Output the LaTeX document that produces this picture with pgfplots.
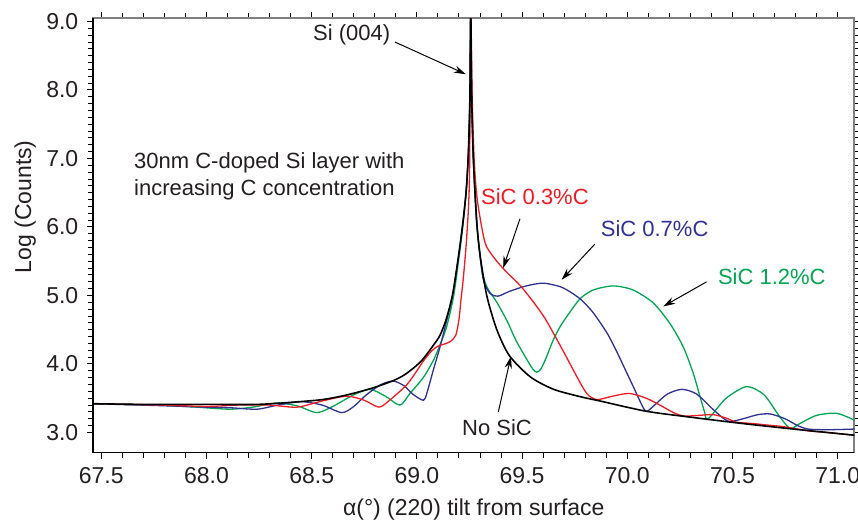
\documentclass[border=0pt]{standalone}
\usepackage{fontspec}
\setmainfont{Liberation Sans}
\usepackage{pgfplots}
\pgfplotsset{compat=1.18}
\usetikzlibrary{arrows.meta,calc}
\definecolor{cred}{RGB}{237,28,36}
\definecolor{cblue}{RGB}{46,49,146}
\definecolor{cgreen}{RGB}{0,166,81}
\definecolor{txt}{RGB}{35,31,32}

\begin{document}
\begin{tikzpicture}
\begin{axis}[
 scale only axis,width=380.5pt,height=217.2pt,
 xmin=67.462,xmax=71.079,ymin=2.705,ymax=9.047,
 xtick={67.5,68,...,71},minor x tick num=4,
 ytick={3,4,...,9},minor y tick num=9,
 tick align=outside,
 major tick length=3pt,minor tick length=2.5pt,
 tick style={black,line width=0.5pt},
 axis line style={draw=gray,line width=0.8pt},
 /pgf/number format/assume math mode=true,
 /pgf/number format/.cd,fixed,fixed zerofill,precision=1,/pgfplots/.cd,
 ticklabel style={font=\fontsize{11.5}{13}\selectfont,text=txt},
 xticklabel style={anchor=north,yshift=-1pt},
 yticklabel style={anchor=east,xshift=-1pt},
 xlabel={α(°) (220) tilt from surface},
 ylabel={Log (Counts)},
 label style={font=\fontsize{11.5}{14}\selectfont,text=txt},
 xlabel style={at={(axis description cs:0.5,-0.131)},anchor=center},
 ylabel style={at={(axis description cs:-0.0894,0.566)},anchor=center},
 every axis plot/.append style={line join=round,smooth,tension=0.45},
 after end axis/.code={\draw[black,line width=0.8pt] (rel axis cs:0,1) -- (rel axis cs:0,0) -- (rel axis cs:1,0);},
]
\coordinate (O) at (rel axis cs:0,0);
% SiC 1.2%C
\addplot[cgreen,line width=0.65pt] coordinates {
(67.46,3.42) (67.75,3.40) (67.95,3.37) (68.11,3.34) (68.22,3.37) (68.33,3.43) (68.43,3.39)
(68.524,3.29) (68.60,3.38) (68.70,3.55) (68.777,3.63) (68.85,3.53) (68.92,3.40) (68.967,3.57)
(69.03,3.80) (69.078,4.05) (69.11,4.28) (69.142,4.55) (69.175,5.00) (69.20,5.55) (69.22,6.05)
(69.235,6.55) (69.245,7.10) (69.252,7.9) (69.256,9.20) (69.260,8.0) (69.268,7.03) (69.284,6.05)
(69.308,5.40) (69.332,5.13) (69.38,4.90) (69.43,4.62) (69.47,4.35) (69.52,4.08) (69.55,3.93)
(69.569,3.88) (69.59,3.93) (69.617,4.11) (69.648,4.35) (69.68,4.54) (69.712,4.69) (69.775,4.95)
(69.838,5.08) (69.933,5.14) (70.028,5.08) (70.124,4.89) (70.203,4.59) (70.266,4.25) (70.314,3.86)
(70.346,3.52) (70.369,3.28) (70.377,3.19) (70.40,3.25) (70.47,3.50) (70.567,3.67) (70.65,3.55)
(70.72,3.25) (70.773,3.06) (70.82,3.13) (70.90,3.25) (70.995,3.28) (71.08,3.18)};
% SiC 0.7%C
\addplot[cblue,line width=0.65pt] coordinates {
(67.46,3.42) (67.80,3.39) (68.00,3.37) (68.12,3.36) (68.24,3.34) (68.34,3.40) (68.45,3.45)
(68.55,3.40) (68.643,3.29) (68.70,3.38) (68.76,3.55) (68.83,3.70) (68.888,3.75) (68.94,3.68)
(68.98,3.56) (69.031,3.47) (69.047,3.57) (69.078,3.91) (69.11,4.25) (69.142,4.64) (69.17,5.00)
(69.20,5.62) (69.22,6.10) (69.235,6.55) (69.245,7.10) (69.252,7.9) (69.256,9.20) (69.260,8.0)
(69.268,7.03) (69.284,6.10) (69.30,5.58) (69.316,5.23) (69.347,5.03) (69.385,4.99) (69.44,5.06)
(69.52,5.14) (69.60,5.18) (69.68,5.13) (69.73,5.05) (69.78,4.94) (69.83,4.78) (69.87,4.61)
(69.91,4.42) (69.95,4.18) (69.99,3.92) (70.03,3.66) (70.06,3.46) (70.08,3.34) (70.095,3.31)
(70.13,3.40) (70.19,3.56) (70.26,3.63) (70.33,3.56) (70.41,3.33) (70.46,3.20) (70.49,3.16)
(70.55,3.20) (70.62,3.26) (70.68,3.27) (70.75,3.20) (70.81,3.10) (70.86,3.05) (70.95,3.04)
(71.08,3.05)};
% SiC 0.3%C
\addplot[cred,line width=0.65pt] coordinates {
(67.46,3.42) (67.80,3.40) (68.00,3.38) (68.15,3.40) (68.30,3.40) (68.43,3.37) (68.55,3.46)
(68.666,3.53) (68.75,3.47) (68.82,3.37) (68.87,3.47) (68.95,3.69) (69.00,3.90) (69.03,4.04)
(69.07,4.19) (69.10,4.26) (69.13,4.29) (69.16,4.33) (69.185,4.42) (69.20,4.65) (69.21,4.95)
(69.22,5.23) (69.237,5.86) (69.25,6.74) (69.256,9.20) (69.262,8.0) (69.272,7.0) (69.285,6.45)
(69.308,6.00) (69.33,5.72) (69.38,5.50) (69.43,5.33) (69.49,5.15) (69.55,4.92) (69.61,4.66)
(69.69,4.22) (69.77,3.76) (69.81,3.56) (69.855,3.48) (69.93,3.53) (70.01,3.57) (70.09,3.50)
(70.155,3.40) (70.22,3.29) (70.27,3.24) (70.34,3.25) (70.41,3.26) (70.47,3.21) (70.52,3.15)
(70.60,3.13) (70.66,3.11) (70.73,3.09) (70.79,3.06) (70.87,3.02) (70.95,3.00) (71.08,2.96)};
% No SiC
\addplot[black,line width=0.8pt] coordinates {
(67.46,3.42) (67.70,3.41) (68.00,3.41) (68.24,3.41) (68.40,3.44) (68.55,3.48) (68.67,3.55)
(68.79,3.65) (68.89,3.76) (68.95,3.86) (69.02,4.04) (69.08,4.28) (69.11,4.42) (69.14,4.66)
(69.17,5.02) (69.20,5.62) (69.22,6.10) (69.235,6.55) (69.245,7.10) (69.252,7.9) (69.256,9.20)
(69.260,8.0) (69.268,7.03) (69.284,6.10) (69.30,5.60) (69.332,5.00) (69.38,4.50) (69.44,4.12)
(69.54,3.81) (69.65,3.63) (69.78,3.52) (69.87,3.46) (70.09,3.31) (70.31,3.22) (70.55,3.13)
(70.79,3.05) (71.08,2.96)};

\begin{scope}[font=\fontsize{11}{13.5}\selectfont]
\node[text=txt] at (axis cs:68.69,8.80) {Si (004)};
\node[text=txt,align=left,anchor=west] at (axis cs:67.623,6.735) {30nm C-doped Si layer with\\increasing C concentration};
\node[text=cred] at (axis cs:69.561,6.44) {SiC 0.3\%C};
\node[text=cblue] at (axis cs:70.13,5.97) {SiC 0.7\%C};
\node[text=cgreen] at (axis cs:70.687,5.27) {SiC 1.2\%C};
\node[text=txt] at (axis cs:69.381,3.07) {No SiC};
\end{scope}
\begin{scope}[-{Stealth[length=6pt,width=3.6pt]},line width=0.5pt,black]
\draw (axis cs:68.896,8.70) -- (axis cs:69.233,8.23);
\draw (axis cs:69.49,6.12) -- (axis cs:69.41,5.40);
\draw (axis cs:69.846,5.75) -- (axis cs:69.688,5.23);
\draw (axis cs:70.377,5.20) -- (axis cs:70.171,4.84);
\draw (axis cs:69.387,3.30) -- (axis cs:69.447,4.11);
\end{scope}
\end{axis}
\pgfresetboundingbox
\useasboundingbox ($(O)+(-46.65pt,-35.15pt)$) rectangle ($(O)+(382.35pt,226.35pt)$);
\end{tikzpicture}
\end{document}
